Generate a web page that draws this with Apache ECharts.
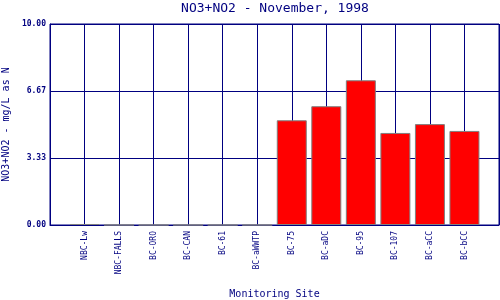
<!DOCTYPE html>
<html><head><meta charset="utf-8">
<script src="https://cdn.jsdelivr.net/npm/echarts@6/dist/echarts.min.js"></script>
<style>html,body{margin:0;padding:0;background:#fff}#c{width:500px;height:300px}</style>
</head><body><div id="c"></div>
<script>
const sites = ['NBC-Lw','NBC-FALLS','BC-ORO','BC-CAN','BC-61','BC-aWWTP','BC-75','BC-aDC','BC-95','BC-107','BC-aCC','BC-bCC'];
const values = [0.05, 0, 0, 0, 0, 0, 5.21, 5.91, 7.20, 4.58, 5.02, 4.68];
const yTicks = [0, 10/3, 20/3, 10];
const titleText = 'NO3+NO2 - November, 1998';
const yName = 'NO3+NO2 - mg/L as N';
const xName = 'Monitoring Site';

const NAVY = '#000080';
const cats = [''].concat(sites, ['']);
const data = [null].concat(values, [null]);
const chart = echarts.init(document.getElementById('c'), null, {renderer:'canvas'});
chart.setOption({
  animation:false,
  backgroundColor:'#fff',
  title:{text:titleText,left:275,textAlign:'center',top:2,padding:0,
    textStyle:{fontFamily:'DejaVu Sans Mono',fontSize:13,fontWeight:'normal',color:NAVY}},
  grid:{left:50,right:1,top:24,bottom:75,containLabel:false,outerBoundsMode:'none',
    show:true,borderColor:NAVY,borderWidth:1,backgroundColor:'#fff'},
  xAxis:{type:'category',data:cats,boundaryGap:false,
    name:xName,nameLocation:'middle',nameGap:64,
    nameTextStyle:{fontFamily:'DejaVu Sans Mono',fontSize:10,color:NAVY},
    axisLine:{lineStyle:{color:NAVY,width:1}},axisTick:{show:false},
    splitLine:{show:true,lineStyle:{color:NAVY,width:1}},
    axisLabel:{rotate:90,margin:6,interval:0,fontFamily:'DejaVu Sans Mono',fontSize:8,color:NAVY}},
  yAxis:{type:'value',min:0,max:10,interval:10/3,
    name:yName,nameLocation:'middle',nameGap:37,
    nameTextStyle:{fontFamily:'DejaVu Sans Mono',fontSize:10,color:NAVY},
    axisLine:{show:true,lineStyle:{color:NAVY}},axisTick:{show:false},
    splitLine:{show:true,lineStyle:{color:NAVY,width:1}},
    axisLabel:{margin:4,fontFamily:'DejaVu Sans Mono',fontSize:8,fontWeight:'bold',color:NAVY,
      formatter:v=>v.toFixed(2)}},
  series:[{type:'bar',data:data,barWidth:30,
    itemStyle:{color:'#ff0000',borderColor:'#808080',borderWidth:1}}]
});
</script></body></html>
